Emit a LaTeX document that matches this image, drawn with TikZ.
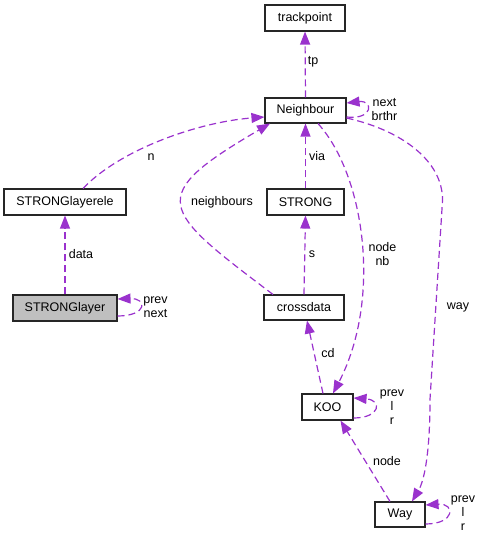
\documentclass[tikz,border=0pt]{standalone}
\usepackage{fontspec}
\setmainfont{Liberation Sans}
\usetikzlibrary{arrows.meta,calc}
\definecolor{edgecol}{HTML}{9A32CD}
\definecolor{grayfill}{HTML}{BFBFBF}
\tikzset{
  box/.style={draw=black!85, line width=1.1pt, fill=white, inner sep=0pt, font=\fontsize{12.5}{14}\selectfont},
  rel/.style={draw=edgecol, line width=1.2pt, dash pattern=on 7pt off 4pt, -{Triangle[length=13pt,width=10pt]}},
  lbl/.style={inner sep=0pt, align=center, font=\fontsize{12.5}{14}\selectfont}
}
\begin{document}
\begin{tikzpicture}[x=1pt,y=-1pt]
\useasboundingbox (0,0) rectangle (483,542);
% nodes
\node[box, minimum width=80pt, minimum height=26pt] (trackpoint) at (305,18) {trackpoint};
\node[box, minimum width=81pt, minimum height=25pt] (Neighbour) at (305.5,110.5) {Neighbour};
\node[box, minimum width=122pt, minimum height=26pt] (STRONGlayerele) at (65,202) {STRONGlayerele};
\node[box, fill=grayfill, minimum width=104pt, minimum height=26pt] (STRONGlayer) at (65,308) {STRONGlayer};
\node[box, minimum width=77pt, minimum height=26pt] (STRONG) at (305.5,202) {STRONG};
\node[box, minimum width=80pt, minimum height=25pt] (crossdata) at (304,307.5) {crossdata};
\node[box, minimum width=51pt, minimum height=26pt] (KOO) at (327.5,407) {KOO};
\node[box, minimum width=50pt, minimum height=25pt] (Way) at (400,514.5) {Way};
% edges
\draw[rel] (Neighbour.north) -- (trackpoint.south);
\draw[rel] ($(Neighbour.east)+(0,6.5)$) .. controls +(27,3) and +(27,-3) .. ($(Neighbour.east)+(0,-7.5)$);
\draw[rel] ($(STRONGlayerele.north)+(18,0)$) .. controls +(37,-39) and +(-66,5) .. ($(Neighbour.west)+(0,6.5)$);
\draw[rel] ($(crossdata.north)+(-31,0)$) .. controls +(-112.6,-85.2) and +(-126,73.5) .. ($(Neighbour.south)+(-35.5,0)$);
\draw[rel] (STRONG.north) -- (Neighbour.south);
\draw[rel] ($(Neighbour.south)+(12.5,0)$) .. controls +(47,52) and +(49,-94) .. ($(KOO.north)+(5.5,0)$);
\draw[rel] ($(Neighbour.east)+(0,7.5)$) .. controls +(54,12) and +(0,-40) .. ($(Neighbour.east)+(96,89.5)$)
   -- ($(Way.north)+(30,-102)$) .. controls +(0,50) and +(13,-22) .. ($(Way.north)+(12,0)$);
\draw[rel] (STRONGlayer.north) -- (STRONGlayerele.south);
\draw[rel] ($(STRONGlayer.east)+(0,8)$) .. controls +(30,0) and +(30,-1) .. ($(STRONGlayer.east)+(0,-9)$);
\draw[rel] (crossdata.north) -- (STRONG.south);
\draw[rel] ($(KOO.north)+(-4.5,0)$) -- ($(crossdata.south)+(3,0)$);
\draw[rel] ($(KOO.east)+(0,11)$) .. controls +(27,0) and +(29,2) .. ($(KOO.east)+(0,-9)$);
\draw[rel] ($(Way.north)+(-10,0)$) -- ($(KOO.south)+(13,0)$);
\draw[rel] ($(Way.east)+(0,9.5)$) .. controls +(30,0) and +(30,-2) .. ($(Way.east)+(0,-9.5)$);
% labels
\node[lbl] (ltp) at (313,62) {tp};
\node[lbl] (lnext) at (384.5,110) {next\\brthr};
\node[lbl] (ln) at (151,157) {n};
\node[lbl] (lneigh) at (222,202) {neighbours};
\node[lbl] (lvia) at (317,156) {via};
\node[lbl] (lnodenb) at (382.5,254) {node\\nb};
\node[lbl] (lway) at (458,307) {way};
\node[lbl] (ldata) at (81,254) {data};
\node[lbl] (lslprev) at (155.5,307) {prev\\next};
\node[lbl] (ls) at (312,254) {s};
\node[lbl] (lcd) at (328,353) {cd};
\node[lbl] (lkoo) at (392,407) {prev\\l\\r};
\node[lbl] (lnode) at (387,461) {node};
\node[lbl] (lwayself) at (463,513.5) {prev\\l\\r};
\end{tikzpicture}
\end{document}
